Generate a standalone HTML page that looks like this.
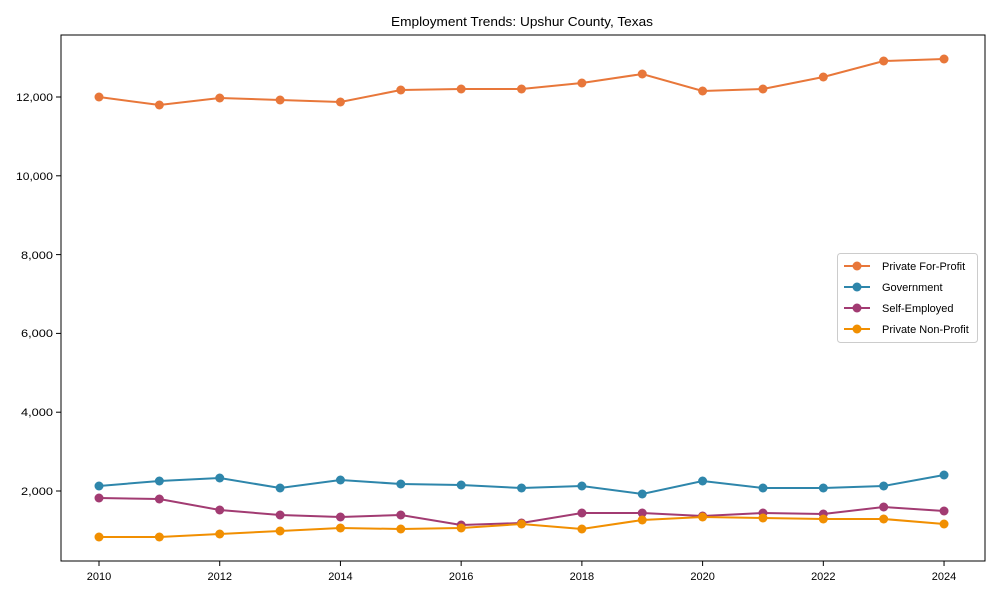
<!DOCTYPE html>
<html><head><meta charset="utf-8"><style>html,body{margin:0;padding:0;background:#fff}svg{display:block}text{font-family:"Liberation Sans",Arial,sans-serif;fill:#000}</style></head>
<body>
<svg id="s" width="1000" height="600" xmlns="http://www.w3.org/2000/svg">
<rect width="1000" height="600" fill="#fff"/>
<text x="522" y="26" font-size="13" text-anchor="middle" textLength="262" lengthAdjust="spacingAndGlyphs">Employment Trends: Upshur County, Texas</text>
<g font-size="11" text-anchor="end">
<line x1="56" x2="61" y1="491" y2="491" stroke="#000"/><text x="53" y="495" textLength="32" lengthAdjust="spacingAndGlyphs">2,000</text>
<line x1="56" x2="61" y1="412.2" y2="412.2" stroke="#000"/><text x="53" y="416" textLength="32" lengthAdjust="spacingAndGlyphs">4,000</text>
<line x1="56" x2="61" y1="333.4" y2="333.4" stroke="#000"/><text x="53" y="337" textLength="32" lengthAdjust="spacingAndGlyphs">6,000</text>
<line x1="56" x2="61" y1="254.6" y2="254.6" stroke="#000"/><text x="53" y="259" textLength="32" lengthAdjust="spacingAndGlyphs">8,000</text>
<line x1="56" x2="61" y1="175.8" y2="175.8" stroke="#000"/><text x="53" y="180" textLength="37" lengthAdjust="spacingAndGlyphs">10,000</text>
<line x1="56" x2="61" y1="97" y2="97" stroke="#000"/><text x="53" y="101" textLength="37" lengthAdjust="spacingAndGlyphs">12,000</text>
</g>
<g id="xt" font-size="11" text-anchor="middle"></g>
<g id="series"></g>
<rect x="61" y="35" width="924" height="526" fill="none" stroke="#000" stroke-width="1"/>
<rect x="837.5" y="253.5" width="140" height="89" rx="3" fill="#fff" stroke="#ccc"/>
<g font-size="11">
<line x1="844" x2="870" y1="266" y2="266" stroke="#E8773A" stroke-width="2"/><circle cx="857" cy="266" r="4.5" fill="#E8773A"/><text x="882" y="270">Private For-Profit</text>
<line x1="844" x2="870" y1="287" y2="287" stroke="#2E86AB" stroke-width="2"/><circle cx="857" cy="287" r="4.5" fill="#2E86AB"/><text x="882" y="291">Government</text>
<line x1="844" x2="870" y1="308" y2="308" stroke="#A23B72" stroke-width="2"/><circle cx="857" cy="308" r="4.5" fill="#A23B72"/><text x="882" y="312">Self-Employed</text>
<line x1="844" x2="870" y1="329" y2="329" stroke="#F18F01" stroke-width="2"/><circle cx="857" cy="329" r="4.5" fill="#F18F01"/><text x="882" y="333">Private Non-Profit</text>
</g>
</svg>
<script>
const ns="http://www.w3.org/2000/svg";
const X=i=>99+60.36*i;
const xt=document.getElementById('xt');
for(let y=2010;y<=2024;y+=2){const i=y-2010;
 const l=document.createElementNS(ns,'line');l.setAttribute('x1',X(i));l.setAttribute('x2',X(i));l.setAttribute('y1',561);l.setAttribute('y2',566);l.setAttribute('stroke','#000');xt.appendChild(l);
 const t=document.createElementNS(ns,'text');t.setAttribute('x',X(i));t.setAttribute('y',580);t.textContent=y;xt.appendChild(t);}
const S=[
["#E8773A",[97,105,98,100,102,90,89,89,83,74,91,89,77,61,59]],
["#2E86AB",[486,481,478,488,480,484,485,488,486,494,481,488,488,486,475]],
["#A23B72",[498,499,510,515,517,515,525,523,513,513,516,513,514,507,511]],
["#F18F01",[537,537,534,531,528,529,528,524,529,520,517,518,519,519,524]]];
const g=document.getElementById('series');
S.forEach(([c,ys])=>{
 const p=document.createElementNS(ns,'polyline');
 p.setAttribute('points',ys.map((y,i)=>X(i)+','+y).join(' '));
 p.setAttribute('fill','none');p.setAttribute('stroke',c);p.setAttribute('stroke-width','2');g.appendChild(p);
 ys.forEach((y,i)=>{const k=document.createElementNS(ns,'circle');k.setAttribute('cx',X(i));k.setAttribute('cy',y);k.setAttribute('r',4.5);k.setAttribute('fill',c);g.appendChild(k);});
});
</script>
</body></html>
